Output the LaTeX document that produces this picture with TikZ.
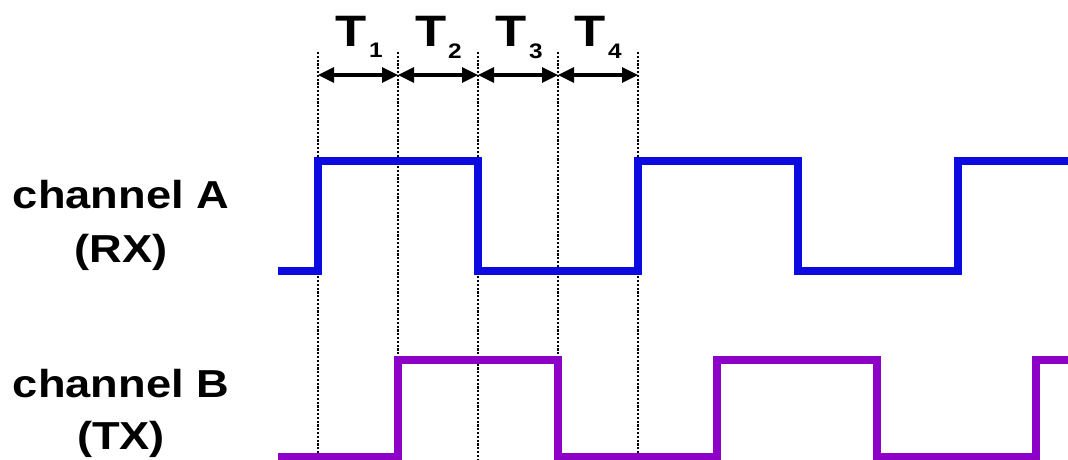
\documentclass[tikz,border=0pt]{standalone}
\usepackage{fontspec}
\setmainfont{Liberation Sans}
\usetikzlibrary{arrows.meta}
\definecolor{sigA}{RGB}{10,10,225}
\definecolor{sigB}{RGB}{140,0,200}
\tikzset{
  lbl/.style={font=\fontsize{39}{44}\selectfont\bfseries, xscale=1.16, inner sep=0pt, anchor=base},
  tbig/.style={font=\fontsize{44}{48}\selectfont\bfseries, xscale=1.16, inner sep=0pt, anchor=base},
  tsub/.style={font=\fontsize{21}{24}\selectfont\bfseries, xscale=1.16, inner sep=0pt, anchor=base},
  guide/.style={black, line width=2.4pt, dash pattern=on 2.2pt off 1.6pt},
  span/.style={line width=3.2pt, {Triangle[length=16pt,width=15pt]}-{Triangle[length=16pt,width=15pt]}, shorten <=0pt, shorten >=0pt},
  wave/.style={line width=7.5pt, line join=miter, line cap=butt},
}
\begin{document}
\begin{tikzpicture}[x=1pt,y=-1pt]
\useasboundingbox (0,0) rectangle (1068,460);
% time marks
\foreach \n/\x in {0/318,1/398,2/478,3/558,4/638}{
  \coordinate (t\n) at (\x,52);
  \coordinate (b\n) at (\x,460);
  \coordinate (a\n) at (\x,75);
  \draw[guide] (t\n) -- (b\n);
}
% spans
\draw[span] (a0) -- (a1);
\draw[span] (a1) -- (a2);
\draw[span] (a2) -- (a3);
\draw[span] (a3) -- (a4);
% labels T
\node[tbig] (T1) at (351,47) {T};
\node[tsub] (s1) at (376,58) {1};
\node[tbig] (T2) at (431,47) {T};
\node[tsub] (s2) at (455,59) {2};
\node[tbig] (T3) at (511,47) {T};
\node[tsub] (s3) at (536,59) {3};
\node[tbig] (T4) at (590,47) {T};
\node[tsub] (s4) at (615,59) {4};
% channel labels
\node[lbl] (la1) at (121,208) {channel A};
\node[lbl] (la2) at (121,262) {(RX)};
\node[lbl] (lb1) at (121,397) {channel B};
\node[lbl] (lb2) at (121,449) {(TX)};
% waveforms
\draw[wave, sigA] (278,271) -- (318,271) -- (318,161) -- (478,161) -- (478,271) -- (638,271)
  -- (638,161) -- (798,161) -- (798,271) -- (958,271) -- (958,161) -- (1072,161);
\draw[wave, sigB] (278,457) -- (398,457) -- (398,360) -- (558,360) -- (558,457) -- (717,457)
  -- (717,360) -- (877,360) -- (877,457) -- (1036,457) -- (1036,360) -- (1072,360);
\end{tikzpicture}
\end{document}
